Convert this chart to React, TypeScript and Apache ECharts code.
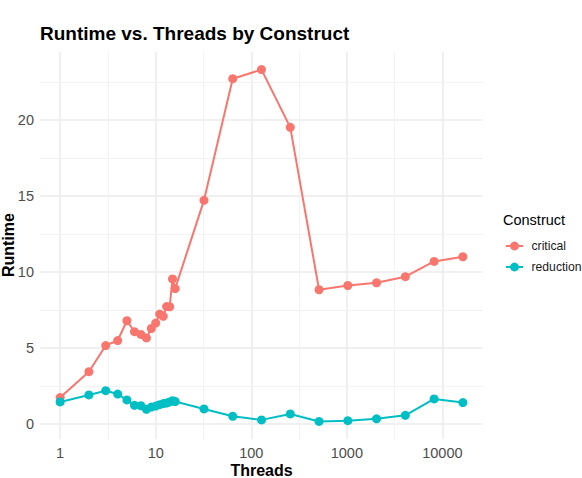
import React, { useEffect, useRef } from "react";
import * as echarts from "echarts";

const threads = [1, 2, 3, 4, 5, 6, 7, 8, 9, 10, 11, 12, 13, 14, 15, 16, 32, 64, 128, 256, 512, 1024, 2048, 4096, 8192, 16384];
const critical = [1.73, 3.43, 5.15, 5.48, 6.78, 6.06, 5.88, 5.65, 6.27, 6.63, 7.22, 7.07, 7.71, 7.7, 9.53, 8.9, 14.7, 22.7, 23.3, 19.5, 8.82, 9.1, 9.28, 9.68, 10.68, 10.99];
const reduction = [1.44, 1.9, 2.18, 1.96, 1.57, 1.22, 1.19, 0.96, 1.1, 1.17, 1.26, 1.33, 1.37, 1.44, 1.52, 1.47, 0.98, 0.5, 0.26, 0.65, 0.16, 0.21, 0.33, 0.56, 1.64, 1.4];
const seriesNames = ["critical", "reduction"];
const seriesColors = ["#F8766D", "#00BFC4"];
const xTicks = [1, 10, 100, 1000, 10000];
const xMinorTicks = [3.1623, 31.623, 316.23, 3162.3];
const yTicks = [0, 5, 10, 15, 20];
const yMinorTicks = [2.5, 7.5, 12.5, 17.5, 22.5];

const FONT = "'Liberation Sans', Arial, sans-serif";

export default function App() {
  const ref = useRef<HTMLDivElement>(null);
  useEffect(() => {
    if (!ref.current) return;
    document.body.style.margin = "0";
    const chart = echarts.init(ref.current, undefined, { renderer: "svg" });
    const lx = (v: number) => Math.log10(v);
    const xDataMin = lx(threads[0]);
    const xDataMax = lx(threads[threads.length - 1]);
    const xPad = (xDataMax - xDataMin) * 0.05;
    const all = critical.concat(reduction);
    const yDataMin = Math.min(...all);
    const yDataMax = Math.max(...all);
    const yPad = (yDataMax - yDataMin) * 0.05;

    const mkSeries = (name: string, vals: number[], color: string) => ({
      name,
      type: "line",
      data: threads.map((t, i) => [lx(t), vals[i]]),
      symbol: "circle",
      symbolSize: 9,
      showSymbol: true,
      itemStyle: { color },
      lineStyle: { color, width: 2 },
      emphasis: { disabled: true },
      z: 3,
    });

    chart.setOption({
      animation: false,
      textStyle: { fontFamily: FONT },
      grid: { left: 40, right: 99, top: 52, bottom: 39, containLabel: false },
      xAxis: {
        type: "value",
        min: xDataMin - xPad,
        max: xDataMax + xPad,
        axisLine: { show: false },
        axisTick: { show: false, customValues: xTicks.map(lx) },
        axisLabel: {
          customValues: xTicks.map(lx),
          formatter: (v: number) => String(Math.round(Math.pow(10, v))),
          color: "#4d4d4d",
          fontSize: 14.5,
          fontFamily: FONT,
          margin: 6,
        },
        splitLine: { show: true, lineStyle: { color: "#ebebeb", width: 1.5 } },
      },
      yAxis: {
        type: "value",
        min: yDataMin - yPad,
        max: yDataMax + yPad,
        axisLine: { show: false },
        axisTick: { show: false, customValues: yTicks },
        axisLabel: {
          customValues: yTicks,
          color: "#4d4d4d",
          fontSize: 14.5,
          fontFamily: FONT,
          margin: 6,
        },
        splitLine: { show: true, lineStyle: { color: "#ebebeb", width: 1.5 } },
      },
      legend: {
        data: seriesNames,
        orient: "vertical",
        left: 505,
        top: 240,
        padding: 0,
        itemWidth: 17,
        itemHeight: 11,
        itemGap: 9,
        textStyle: { fontSize: 12.2, color: "#1a1a1a", fontFamily: FONT, padding: [0, 0, 0, 3.5] },
      },
      graphic: [
        {
          type: "text",
          x: 40,
          y: 33,
          style: { text: "Runtime vs. Threads by Construct", fontSize: 19, fontWeight: "bold", fontFamily: FONT, fill: "#000", align: "left", verticalAlign: "middle" },
        },
        {
          type: "text",
          x: 8,
          y: 245,
          rotation: Math.PI / 2,
          style: { text: "Runtime", fontSize: 16, fontWeight: "bold", fontFamily: FONT, fill: "#000", align: "center", verticalAlign: "middle" },
        },
        {
          type: "text",
          x: 261.5,
          y: 470,
          style: { text: "Threads", fontSize: 16, fontWeight: "bold", fontFamily: FONT, fill: "#000", align: "center", verticalAlign: "middle" },
        },
        {
          type: "text",
          x: 503,
          y: 220,
          style: { text: "Construct", fontSize: 14.5, fontFamily: FONT, fill: "#000", align: "left", verticalAlign: "middle" },
        },
      ],
      series: [
        {
          name: "grid-minor",
          type: "line",
          data: [],
          z: 1,
          silent: true,
          markLine: {
            z: 1,
            silent: true,
            symbol: ["none", "none"],
            label: { show: false },
            emphasis: { disabled: true },
            lineStyle: { color: "#f2f2f2", width: 1, type: "solid" },
            data: [
              ...xMinorTicks.map((v) => ({ xAxis: lx(v) })),
              ...yMinorTicks.map((v) => ({ yAxis: v })),
            ],
          },
        },
        mkSeries(seriesNames[0], critical, seriesColors[0]),
        mkSeries(seriesNames[1], reduction, seriesColors[1]),
      ],
    });
    return () => chart.dispose();
  }, []);
  return <div ref={ref} style={{ width: 582, height: 478 }} />;
}
